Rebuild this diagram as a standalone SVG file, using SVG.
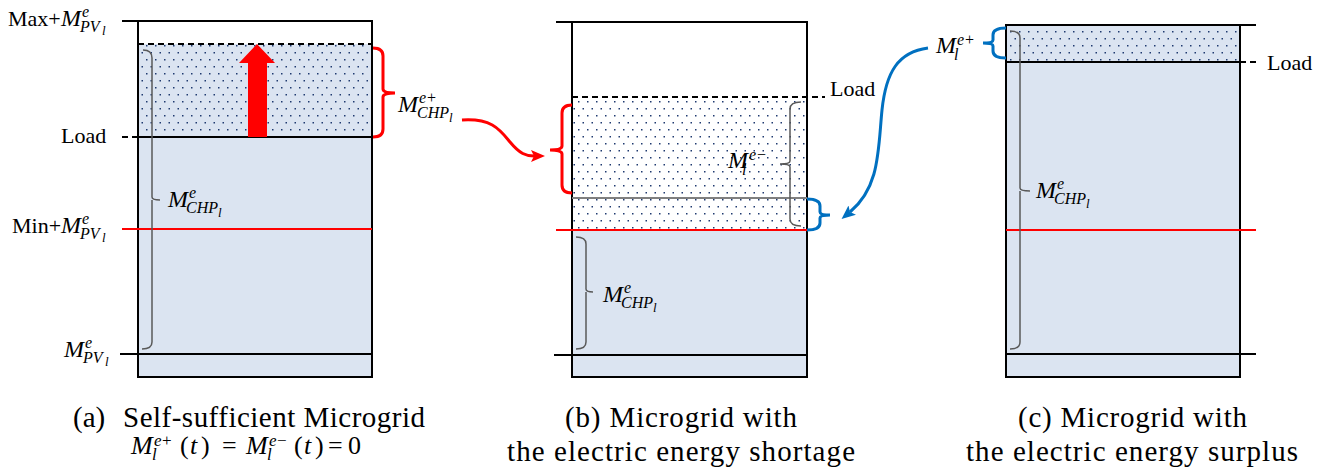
<svg xmlns="http://www.w3.org/2000/svg" width="1330" height="470" viewBox="0 0 1330 470">
<defs>
<pattern id="dots" width="9" height="14" patternUnits="userSpaceOnUse">
<rect x="2" y="3" width="1.5" height="1.5" fill="#1f3a70"/>
<rect x="6.5" y="10" width="1.5" height="1.5" fill="#1f3a70"/>
</pattern>
<marker id="ra" markerWidth="14" markerHeight="12" refX="3" refY="6" orient="auto" markerUnits="userSpaceOnUse">
<path d="M0,0 L14,6 L0,12 L3,6 z" fill="#ff0000"/>
</marker>
<marker id="ba" markerWidth="14" markerHeight="12" refX="3" refY="6" orient="auto" markerUnits="userSpaceOnUse">
<path d="M0,0 L14,6 L0,12 L3,6 z" fill="#0070c0"/>
</marker>
</defs>
<style>
.bg{fill:#dbe4f1}
.dt{fill:url(#dots)}
.box{fill:none;stroke:#000;stroke-width:2}
.blk{stroke:#000;stroke-width:2;fill:none}
.red{stroke:#ff0000;stroke-width:2;fill:none}
.gry{stroke:#7f7f7f;stroke-width:2;fill:none}
.dash{stroke:#000;stroke-width:2;stroke-dasharray:6 4;fill:none}
.gbr{fill:none;stroke:#595959;stroke-width:1.5}
.rbr{fill:none;stroke:#ff0000;stroke-width:3}
.bbr{fill:none;stroke:#0070c0;stroke-width:3}
.t{font-family:"Liberation Serif",serif;font-size:22px;fill:#000}
.m{font-style:italic}
.mm{font-style:italic;font-size:24px}
.s{font-size:16px}
.ss{font-size:13px}
.cap{font-family:"Liberation Serif",serif;font-size:29px;fill:#000}
.f{font-family:"Liberation Serif",serif;font-size:26px;fill:#000}
.fs{font-size:17px}
</style>

<g id="panel-a">
<rect class="bg" x="138" y="44" width="234" height="333"/>
<rect class="dt" x="138" y="44" width="234" height="93"/>
<rect class="box" x="138" y="21" width="234" height="356"/>
<line class="blk" x1="122" y1="21" x2="372" y2="21"/>
<line class="dash" x1="138" y1="44" x2="372" y2="44"/>
<line class="blk" x1="138" y1="137" x2="372" y2="137"/>
<line class="dash" x1="122" y1="137" x2="138" y2="137"/>
<line class="red" x1="122" y1="229" x2="372" y2="229"/>
<line class="blk" x1="120" y1="354" x2="372" y2="354"/>
<polygon points="248,137 248,63 239,63 257,44 275,63 267,63 267,137" fill="#ff0000"/>
<path class="gbr" d="M143,50 Q152,50 152,58 L152,197 Q152,200 160,200 M152,200 Q152,203 152,206 L152,342 Q152,349 142,349"/>
<path class="rbr" d="M373,48 Q383,48 383,56 L383,89 Q383,93 395,93 Q383,93 383,97 L383,129 Q383,137 373,137"/>
<text class="t" x="8" y="26">Max+<tspan class="mm" x="61">M</tspan><tspan class="m s" x="82" y="17">e</tspan><tspan class="m s" x="80" y="32">PV</tspan><tspan class="m ss" x="102" y="35">l</tspan></text>
<text class="t" x="61" y="143">Load</text>
<text class="t" x="12" y="233">Min+<tspan class="mm" x="61">M</tspan><tspan class="m s" x="82" y="224">e</tspan><tspan class="m s" x="80" y="239">PV</tspan><tspan class="m ss" x="102" y="242">l</tspan></text>
<text class="t"><tspan class="mm" x="64" y="357">M</tspan><tspan class="m s" x="85" y="348">e</tspan><tspan class="m s" x="83" y="363">PV</tspan><tspan class="m ss" x="105" y="366">l</tspan></text>
<text class="t"><tspan class="mm" x="168" y="207">M</tspan><tspan class="m s" x="189" y="198">e</tspan><tspan class="m s" x="186" y="213">CHP</tspan><tspan class="m ss" x="218" y="217">l</tspan></text>
<text class="t"><tspan class="mm" x="398" y="112">M</tspan><tspan class="m s" x="419" y="103">e</tspan><tspan class="s" x="427" y="103">+</tspan><tspan class="m s" x="417" y="118">CHP</tspan><tspan class="m ss" x="449" y="122">l</tspan></text>
<text class="cap" x="73" y="427">(a)</text>
<text class="cap" x="123" y="427" textLength="302" lengthAdjust="spacing">Self-sufficient Microgrid</text>
<text class="f"><tspan class="m" x="131" y="454">M</tspan><tspan class="m fs" x="154" y="446">e</tspan><tspan class="fs" x="162" y="446">+</tspan><tspan class="m fs" x="152" y="460">l</tspan><tspan x="180" y="454">(</tspan><tspan class="m" x="190" y="454">t</tspan><tspan x="201" y="454">)</tspan><tspan x="222" y="454">=</tspan><tspan class="m" x="246" y="454">M</tspan><tspan class="m fs" x="269" y="446">e</tspan><tspan class="fs" x="277" y="446">−</tspan><tspan class="m fs" x="267" y="460">l</tspan><tspan x="294" y="454">(</tspan><tspan class="m" x="304" y="454">t</tspan><tspan x="315" y="454">)</tspan><tspan x="328" y="454">=</tspan><tspan x="348" y="454">0</tspan></text>
</g>

<g id="panel-b">
<rect fill="#fff" x="572" y="97" width="235" height="133"/>
<rect class="dt" x="572" y="97" width="235" height="133"/>
<rect class="bg" x="572" y="230" width="235" height="147"/>
<rect class="box" x="572" y="22" width="235" height="355"/>
<line class="blk" x1="556" y1="22" x2="807" y2="22"/>
<line class="dash" x1="572" y1="97" x2="825" y2="97"/>
<line class="gry" x1="572" y1="198" x2="807" y2="198"/>
<line class="red" x1="556" y1="230" x2="807" y2="230"/>
<line class="blk" x1="554" y1="355" x2="807" y2="355"/>
<path class="rbr" d="M572,105 Q562,105 562,113 L562,146 Q562,150 550,150 Q562,150 562,154 L562,185 Q562,193 572,193"/>
<path class="gbr" d="M801,102 Q790,102 790,109 L790,161 Q790,164 780,164 Q790,164 790,167 L790,219 Q790,226 801,226"/>
<path class="bbr" d="M807,199 Q820,199 820,206 L820,212 Q820,215 830,215 Q820,215 820,218 L820,223 Q820,230 807,230"/>
<path class="gbr" d="M576,237 Q586,237 586,244 L586,289 Q586,292 593,292 M586,292 L586,342 Q586,349 576,349"/>
<text class="t" x="830" y="96">Load</text>
<text class="t"><tspan class="mm" x="728" y="168">M</tspan><tspan class="m s" x="749" y="160">e</tspan><tspan class="s" x="757" y="160">−</tspan><tspan class="m s" x="742" y="175">l</tspan></text>
<text class="t"><tspan class="mm" x="603" y="302">M</tspan><tspan class="m s" x="624" y="293">e</tspan><tspan class="m s" x="621" y="308">CHP</tspan><tspan class="m ss" x="653" y="312">l</tspan></text>
<text class="cap" x="565" y="427" textLength="232" lengthAdjust="spacing">(b) Microgrid with</text>
<text class="cap" x="507" y="461" textLength="348" lengthAdjust="spacing">the electric energy shortage</text>
</g>

<g id="panel-c">
<rect class="bg" x="1006" y="25" width="234" height="352"/>
<rect class="dt" x="1006" y="25" width="234" height="37"/>
<rect class="box" x="1006" y="25" width="234" height="352"/>
<line class="blk" x1="1006" y1="25" x2="1256" y2="25"/>
<line class="blk" x1="1006" y1="62" x2="1240" y2="62"/>
<line class="dash" x1="1240" y1="62" x2="1257" y2="62"/>
<line class="red" x1="1006" y1="230" x2="1256" y2="230"/>
<line class="blk" x1="1006" y1="354" x2="1256" y2="354"/>
<path class="bbr" d="M1006,28 Q993,28 993,35 L993,40 Q993,43 983,43 Q993,43 993,46 L993,51 Q993,58 1006,58"/>
<path class="gbr" d="M1010,31 Q1020,31 1020,38 L1020,188 Q1020,191 1030,191 M1020,191 L1020,342 Q1020,349 1010,349"/>
<text class="t" x="1267" y="70">Load</text>
<text class="t"><tspan class="mm" x="936" y="53">M</tspan><tspan class="m s" x="957" y="45">e</tspan><tspan class="s" x="965" y="45">+</tspan><tspan class="m s" x="954" y="60">l</tspan></text>
<text class="t"><tspan class="mm" x="1036" y="198">M</tspan><tspan class="m s" x="1057" y="189">e</tspan><tspan class="m s" x="1054" y="204">CHP</tspan><tspan class="m ss" x="1086" y="208">l</tspan></text>
<text class="cap" x="1018" y="427" textLength="229" lengthAdjust="spacing">(c) Microgrid with</text>
<text class="cap" x="966" y="461" textLength="332" lengthAdjust="spacing">the electric energy surplus</text>
</g>

<g id="connectors">
<path d="M462,120 C492,118 500,130 510,142 C520,154 526,156 534,156" fill="none" stroke="#ff0000" stroke-width="3" marker-end="url(#ra)"/>
<path d="M928,48 C898,52 886,72 882,110 C878,150 880,187 850,212" fill="none" stroke="#0070c0" stroke-width="3" marker-end="url(#ba)"/>
</g>
</svg>
